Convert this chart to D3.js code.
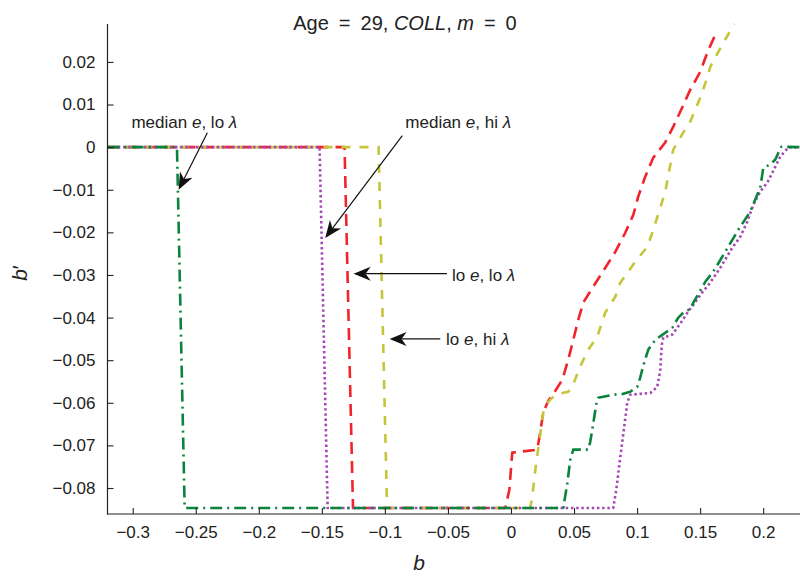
<!DOCTYPE html>
<html><head><meta charset="utf-8">
<script src="https://cdn.jsdelivr.net/npm/d3@7/dist/d3.min.js"></script>
<style>
body{margin:0;background:#fff}
svg{display:block}
text{font-family:"Liberation Sans",Arial,Helvetica,sans-serif;fill:#222}
</style>
</head><body>
<svg id="chart" width="800" height="576"></svg>
<script>
// ---------- data ----------
const xTicks = [-0.3, -0.25, -0.2, -0.15, -0.1, -0.05, 0, 0.05, 0.1, 0.15, 0.2];
const xTickLabels = ["\u22120.3","\u22120.25","\u22120.2","\u22120.15","\u22120.1","\u22120.05","0","0.05","0.1","0.15","0.2"];
const yTicks = [0.02, 0.01, 0, -0.01, -0.02, -0.03, -0.04, -0.05, -0.06, -0.07, -0.08];
const yTickLabels = ["0.02","0.01","0","\u22120.01","\u22120.02","\u22120.03","\u22120.04","\u22120.05","\u22120.06","\u22120.07","\u22120.08"];

// lo e, lo lambda (red dashed)
const redX = [-0.32, -0.132, -0.1253, -0.0045, -0.0013, 0.001, 0.0209, 0.0232, 0.0256, 0.0296, 0.0343, 0.0407, 0.0454, 0.0494, 0.0534, 0.0573, 0.0653, 0.0748, 0.0827, 0.0906, 0.0970, 0.1009, 0.1065, 0.1128, 0.1223, 0.1287, 0.1358, 0.1422, 0.1501, 0.1557, 0.1628];
const redY = [0, 0, -0.0847, -0.0847, -0.0804, -0.0717, -0.0710, -0.0668, -0.0623, -0.0595, -0.0576, -0.0546, -0.0499, -0.0452, -0.0405, -0.0365, -0.0327, -0.0283, -0.0246, -0.0201, -0.0159, -0.0116, -0.0069, -0.0025, 0.0011, 0.0048, 0.0093, 0.0135, 0.0177, 0.0222, 0.0269];

// lo e, hi lambda (yellow dashed)
const yellowX = [-0.32, -0.105, -0.0983, 0.0153, 0.0169, 0.0193, 0.0216, 0.0256, 0.0288, 0.0351, 0.0454, 0.0486, 0.0549, 0.0613, 0.0684, 0.0748, 0.0827, 0.0867, 0.0986, 0.1081, 0.1121, 0.1184, 0.1224, 0.1248, 0.1287, 0.1366, 0.1422, 0.1501, 0.1557, 0.1581, 0.1684, 0.1770];
const yellowY = [0, 0, -0.0847, -0.0847, -0.0820, -0.0757, -0.0708, -0.0623, -0.0600, -0.0581, -0.0574, -0.0562, -0.0515, -0.0475, -0.0445, -0.0388, -0.0351, -0.0318, -0.0269, -0.0234, -0.0201, -0.0142, -0.0104, -0.0065, -0.0006, 0.0034, 0.0060, 0.0116, 0.0163, 0.0189, 0.0245, 0.0289];

// median e, lo lambda (green dash-dot)
const greenX = [-0.32, -0.2649, -0.2588, 0.0415, 0.0423, 0.0446, 0.0470, 0.0494, 0.0613, 0.0629, 0.0652, 0.0676, 0.0692, 0.0811, 0.0890, 0.0946, 0.1002, 0.1025, 0.1049, 0.1089, 0.1145, 0.1279, 0.1327, 0.1382, 0.1422, 0.1446, 0.1501, 0.1541, 0.1604, 0.1652, 0.1700, 0.1803, 0.1898, 0.1953, 0.1977, 0.2001, 0.2057, 0.2096, 0.2144, 0.23];
const greenY = [0, 0, -0.0847, -0.0847, -0.0832, -0.0790, -0.0734, -0.0710, -0.0710, -0.0691, -0.0649, -0.0604, -0.0588, -0.0581, -0.0579, -0.0574, -0.0562, -0.0541, -0.0513, -0.0475, -0.0452, -0.0424, -0.0400, -0.0384, -0.0381, -0.0365, -0.0337, -0.0316, -0.0292, -0.0269, -0.0245, -0.0194, -0.0151, -0.0112, -0.0095, -0.0048, -0.0041, -0.0029, 0.0001, 0];

// median e, hi lambda (purple dotted)
const purpleX = [-0.32, -0.1518, -0.1454, 0.0811, 0.0835, 0.0867, 0.0898, 0.0922, 0.0946, 0.1105, 0.1160, 0.1184, 0.1196, 0.1208, 0.1279, 0.1343, 0.1398, 0.1446, 0.1509, 0.1580, 0.1660, 0.1755, 0.1819, 0.1874, 0.1922, 0.1977, 0.2033, 0.2073, 0.2136, 0.2199, 0.23];
const purpleY = [0, 0, -0.0847, -0.0847, -0.0804, -0.0727, -0.0656, -0.0600, -0.0581, -0.0577, -0.0563, -0.0523, -0.0464, -0.0447, -0.0440, -0.0414, -0.0389, -0.0370, -0.0344, -0.0318, -0.0283, -0.0236, -0.0210, -0.0175, -0.0135, -0.0104, -0.0083, -0.0060, -0.0022, -0.0001, 0];

// annotation labels and arrows (data coordinates)
const annoText = [["median ", "e", ", lo ", "\u03bb"], ["median ", "e", ", hi ", "\u03bb"], ["lo ", "e", ", lo ", "\u03bb"], ["lo ", "e", ", hi ", "\u03bb"]];
const annoTextX = [-0.3010, -0.0838, -0.0468, -0.0515];
const annoTextY = [0.0046, 0.0046, -0.0315, -0.0464];
const arrowFromX = [-0.2408, -0.0862, -0.0508, -0.0561];
const arrowFromY = [0.0034, 0.0027, -0.0297, -0.0450];
const arrowToX = [-0.2636, -0.1473, -0.1248, -0.0963];
const arrowToY = [-0.0100, -0.0213, -0.0297, -0.0450];

// ---------- drawing ----------
const svg = d3.select("#chart");
const x = d3.scaleLinear().domain([-0.32, 0.23]).range([107.5, 801]);
const y = d3.scaleLinear().domain([-0.0861, 0.0289]).range([514, 24]);

svg.append("defs").append("clipPath").attr("id","clip")
  .append("rect").attr("x",107.5).attr("y",22).attr("width",700).attr("height",494);

const series = [
  {xs: redX, ys: redY, color: "#f0242a", dash: "12,7", w: 2.6},
  {xs: yellowX, ys: yellowY, color: "#c6c53a", dash: "9,9", w: 2.6},
  {xs: purpleX, ys: purpleY, color: "#a545b5", dash: "2.4,2.8", w: 2.6},
  {xs: greenX, ys: greenY, color: "#0a843c", dash: "12,5,2,5", w: 2.6}
];
const line = d3.line().x(d => x(d[0])).y(d => y(d[1]));
const g = svg.append("g").attr("clip-path","url(#clip)");
series.forEach(s => {
  g.append("path").datum(s.xs.map((v,i) => [v, s.ys[i]]))
    .attr("d", line).attr("fill","none").attr("stroke", s.color)
    .attr("stroke-width", s.w).attr("stroke-dasharray", s.dash)
    .attr("stroke-linejoin","round");
});

// axes
const xAxis = d3.axisBottom(x).tickValues(xTicks).tickSize(-6).tickPadding(12)
  .tickFormat((d,i) => xTickLabels[i]);
const yAxis = d3.axisLeft(y).tickValues(yTicks).tickSize(-6).tickPadding(12)
  .tickFormat((d,i) => yTickLabels[i]);
const gx = svg.append("g").attr("transform","translate(0,514)").call(xAxis);
const gy = svg.append("g").attr("transform","translate(107.5,0)").call(yAxis);
[gx, gy].forEach(a => {
  a.select(".domain").remove();
  a.selectAll("line").attr("stroke","#222").attr("stroke-width",1.1);
  a.selectAll("text").attr("font-size",17).attr("fill","#222")
    .attr("font-family",'"Liberation Sans",Arial,sans-serif');
});
svg.append("line").attr("x1",107.5).attr("x2",107.5).attr("y1",24).attr("y2",514.5)
  .attr("stroke","#222").attr("stroke-width",1.2);
svg.append("line").attr("x1",107).attr("x2",800).attr("y1",514).attr("y2",514)
  .attr("stroke","#222").attr("stroke-width",1.2);

// title
const title = svg.append("text").attr("x",405).attr("y",30).attr("text-anchor","middle").attr("font-size",20);
title.append("tspan").text("Age\u2002=\u200229, ");
title.append("tspan").attr("font-style","italic").text("COLL");
title.append("tspan").text(", ");
title.append("tspan").attr("font-style","italic").text("m");
title.append("tspan").text("\u2002=\u20020");

// axis labels
svg.append("text").attr("x",419).attr("y",570).attr("text-anchor","middle")
  .attr("font-size",21).attr("font-style","italic").text("b");
const yl = svg.append("text").attr("transform","translate(27,273) rotate(-90)")
  .attr("text-anchor","middle").attr("font-size",21);
yl.append("tspan").attr("font-style","italic").text("b");
yl.append("tspan").text("\u2032");

// annotations
annoText.forEach((parts, i) => {
  const t = svg.append("text").attr("x", x(annoTextX[i])).attr("y", y(annoTextY[i])).attr("font-size",17);
  parts.forEach((p, j) => {
    t.append("tspan").attr("font-style", j % 2 === 1 ? "italic" : null).text(p);
  });
  const x1 = x(arrowFromX[i]), y1 = y(arrowFromY[i]), x2 = x(arrowToX[i]), y2 = y(arrowToY[i]);
  const ang = Math.atan2(y2 - y1, x2 - x1), ux = Math.cos(ang), uy = Math.sin(ang);
  const L = 17, W = 7, N = 12;
  const nx = x2 - ux * N, ny = y2 - uy * N;
  svg.append("line").attr("x1",x1).attr("y1",y1).attr("x2",nx).attr("y2",ny)
    .attr("stroke","#111").attr("stroke-width",1.2);
  const bx = x2 - ux * L, by = y2 - uy * L;
  svg.append("path").attr("d", `M${x2},${y2}L${bx - uy * W},${by + ux * W}L${nx},${ny}L${bx + uy * W},${by - ux * W}Z`)
    .attr("fill","#111");
});
</script>
</body></html>
